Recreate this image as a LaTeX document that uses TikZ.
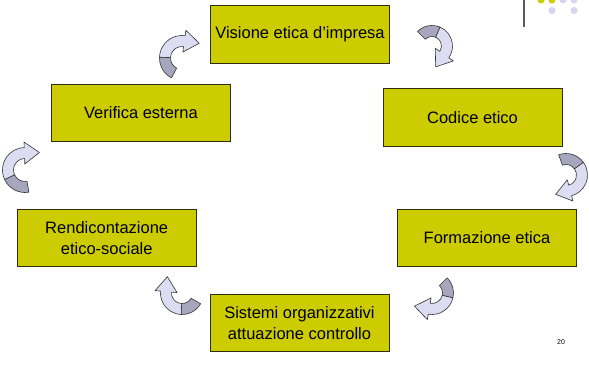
\documentclass[tikz,border=0pt]{standalone}
\usepackage{fontspec}
\setmainfont{Liberation Sans}
\definecolor{boxfill}{HTML}{CCCC00}
\definecolor{boxline}{HTML}{2E2E10}
\definecolor{arlight}{HTML}{DCDCF2}
\definecolor{ardark}{HTML}{A6A6BE}
\definecolor{dotlav}{HTML}{D6D6EE}
\definecolor{dotyel}{HTML}{CCCC00}
\tikzset{
  box/.style={draw=boxline, line width=0.8pt, fill=boxfill, minimum width=179pt,
    minimum height=57.5pt, inner sep=0pt, align=center,
    font=\fontsize{16.5}{20.5}\selectfont},
  arline/.style={draw=black!80, line width=0.6pt, line join=round},
  pics/carrow/.style args={#1/#2/#3}{code={
    \pgfmathsetmacro\arS{#1}
    \pgfmathsetmacro\arE{#2}
    \pgfmathsetmacro\arD{#1+0.4*(#2-#1)}
    \pgfmathsetmacro\arT{#2+90}
    \pgfmathsetmacro\arM{#3}
    \pgfmathsetmacro\arI{#3-5.5}
    \pgfmathsetmacro\arO{#3+5.5}
    \pgfmathsetmacro\arHI{#3-11}
    \pgfmathsetmacro\arHO{#3+11}
    \path[arline, fill=ardark] (\arS:\arI) -- (\arS:\arO)
      arc[start angle=\arS, end angle=\arD, radius=\arO] -- (\arD:\arI)
      arc[start angle=\arD, end angle=\arS, radius=\arI] -- cycle;
    \path[arline, fill=arlight] (\arD:\arI) -- (\arD:\arO)
      arc[start angle=\arD, end angle=\arE, radius=\arO] -- (\arE:\arHO)
      -- ([shift={(\arE:\arM)}]\arT:15) -- (\arE:\arHI) -- (\arE:\arI)
      arc[start angle=\arE, end angle=\arD, radius=\arI] -- cycle;
  }}
}
\begin{document}
\begin{tikzpicture}[x=1pt,y=-1pt]
\fill[white] (0,0) rectangle (589,369);
\useasboundingbox (0,0) rectangle (589,369);
% corner decoration
\draw[black!65, line width=1.2pt] (524,0) -- (524,27);
\fill[dotyel] (541,0) circle[radius=3.5];
\fill[dotyel] (552,0) circle[radius=3.5];
\fill[dotlav] (563,0) circle[radius=3.5];
\fill[dotlav] (574,0) circle[radius=3.5];
\fill[dotlav] (552,10.5) circle[radius=3.5];
\fill[dotlav] (574,10.5) circle[radius=3.5];
% boxes
\node[box] (vis) at (300,34.5) {Visione etica d’impresa};
\node[box] (cod) at (472.5,117.5) {Codice etico};
\node[box] (for) at (487,238) {Formazione etica};
\node[box] (sis) at (299.5,323) {Sistemi organizzativi\\attuazione controllo};
\node[box] (ren) at (106.7,238) {Rendicontazione\\etico-sociale};
\node[box] (ver) at (141,113) {Verifica esterna};
% curved arrows
\pic at (182,58) {carrow={118/278/17}};
\pic at (432,46) {carrow={225/395/15}};
\pic at (25,170) {carrow={80/268/17}};
\pic at (566,175) {carrow={250/435/16}};
\pic at (432,293) {carrow={315/460/16}};
\pic at (182,293) {carrow={30/185/16}};
% page number
\node[font=\fontsize{7}{8}\selectfont] (pg) at (561,342) {20};
\end{tikzpicture}
\end{document}
